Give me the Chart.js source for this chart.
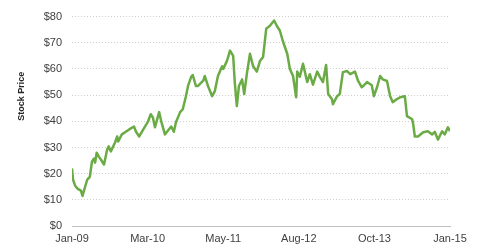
<!DOCTYPE html>
<html>
<head>
<meta charset="utf-8">
<script src="https://cdn.jsdelivr.net/npm/chart.js@4/dist/chart.umd.min.js"></script>
<style>
  html, body { margin: 0; padding: 0; background: #ffffff; }
  #wrap { width: 480px; height: 251px; position: relative; }
</style>
</head>
<body>
<div id="wrap"><canvas id="c" width="480" height="251"></canvas></div>
<script>
// Months since Jan-2009
const months = [
  0, 0.2, 0.6, 1.1, 1.7, 2.0, 2.5, 2.9, 3.4, 3.8, 4.2, 4.4, 4.7, 5.1, 5.5, 6.1, 6.7, 7.0, 7.4, 8.2,
  8.6, 8.8, 9.5, 10.1, 10.9, 11.8, 12.2, 12.8, 13.3, 13.9, 14.5, 15.0, 15.4, 15.8, 16.6, 17.0, 17.7, 18.1, 18.9, 19.4,
  19.8, 20.6, 21.1, 21.7, 22.1, 22.7, 23.0, 23.6, 24.0, 25.0, 25.3, 25.9, 26.7, 27.2, 27.8, 28.6, 28.8, 29.5, 30.1, 30.7,
  31.0, 31.4, 31.8, 32.4, 32.8, 33.3, 33.9, 34.5, 35.2, 35.8, 36.4, 37.0, 37.7, 38.5, 39.0, 39.6, 40.2, 41.0, 41.5, 42.1,
  42.7, 42.9, 43.4, 44.0, 44.8, 45.3, 45.9, 46.7, 47.2, 47.8, 48.4, 48.8, 49.5, 49.7, 50.5, 51.0, 51.6, 52.4, 53.0, 53.9,
  54.5, 55.2, 56.2, 57.1, 57.5, 58.1, 58.7, 59.2, 60.0, 60.6, 61.1, 61.9, 62.5, 63.4, 63.8, 64.8, 65.0, 65.3, 65.9, 66.9,
  67.8, 68.6, 69.1, 69.7, 70.5, 71.0, 71.6, 72.0
];
// Stock price (USD)
const prices = [
  22, 17.7, 15.4, 14.2, 13.5, 11.5, 15, 17.7, 18.8, 24.6, 25.8, 24.2, 28, 26.5, 25.4, 23.5, 29.2, 30.4, 28.5, 31.9,
  34.2, 32.3, 35, 35.8, 36.9, 38, 36, 34.2, 36, 38, 40, 42.7, 41.5, 37.7, 43.5, 40, 35, 36, 38, 36,
  39.6, 43.5, 44.6, 49.6, 53.5, 57, 57.7, 53.5, 53.5, 55.5, 57.3, 53.5, 49.6, 51.5, 57.3, 61, 60, 63, 67, 65,
  55, 45.8, 53.5, 56, 50.4, 58, 65.8, 61, 59, 63, 64.6, 75.4, 76.5, 78.5, 76.5, 74.6, 70.4, 65.8, 60, 57.3,
  49.2, 59, 57, 62, 55, 58, 54, 59, 57, 55, 61.5, 50.4, 48.5, 46.5, 49.6, 50.4, 58.8, 59.2, 58, 59,
  55.4, 53, 55, 53.8, 49.6, 53, 57.3, 56, 55.4, 49.6, 47.3, 48.5, 49.2, 49.6, 42, 40.8, 38.8, 34.2, 34.2, 35.8,
  36.2, 35, 36, 33, 36.2, 35, 37.7, 36.2
];
const tickLabels = ["Jan-09", "Mar-10", "May-11", "Aug-12", "Oct-13", "Jan-15"];
const spanMonths = 72;

const points = months.map((m, i) => ({ x: m, y: prices[i] }));

const yTitlePlugin = {
  id: 'yTitle',
  afterDraw(chart) {
    const ctx = chart.ctx;
    const a = chart.chartArea;
    ctx.save();
    ctx.translate(22, a.top + (a.bottom - a.top) * 0.38);
    ctx.rotate(-Math.PI / 2);
    ctx.font = 'bold 9px "Liberation Sans", Arial, sans-serif';
    ctx.fillStyle = '#262626';
    ctx.textAlign = 'center';
    ctx.textBaseline = 'middle';
    ctx.fillText('Stock Price', 0, 0);
    ctx.restore();
  }
};

new Chart(document.getElementById('c'), {
  type: 'line',
  data: {
    datasets: [{
      data: points,
      borderColor: '#6aab45',
      borderWidth: 2.5,
      borderJoinStyle: 'round',
      pointRadius: 0,
      tension: 0,
      fill: false
    }]
  },
  options: {
    responsive: false,
    animation: false,
    layout: { padding: { top: 12, right: 30, bottom: 0, left: 0 } },
    plugins: { legend: { display: false }, tooltip: { enabled: false } },
    scales: {
      x: {
        type: 'linear',
        min: 0,
        max: spanMonths,
        afterBuildTicks(scale) {
          scale.ticks = tickLabels.map((l, i) => ({ value: i * spanMonths / (tickLabels.length - 1) }));
        },
        afterFit(scale) { scale.height = 25; },
        grid: { display: false, drawTicks: false },
        border: { display: true, color: '#bfbfbf', width: 1 },
        ticks: {
          autoSkip: false,
          maxRotation: 0,
          padding: 6,
          color: '#404040',
          font: { family: '"Liberation Sans", Arial, sans-serif', size: 11 },
          callback(v, i) { return tickLabels[i]; }
        }
      },
      y: {
        min: 0,
        max: 80,
        afterFit(scale) { scale.width = 72; },
        grid: {
          color: '#cfcfcf',
          drawTicks: false,
          tickLength: 0
        },
        border: { display: false, dash: [1, 2] },
        ticks: {
          stepSize: 10,
          padding: 10,
          color: '#404040',
          font: { family: '"Liberation Sans", Arial, sans-serif', size: 11 },
          callback(v) { return '$' + v; }
        }
      }
    }
  },
  plugins: [yTitlePlugin]
});
</script>
</body>
</html>
